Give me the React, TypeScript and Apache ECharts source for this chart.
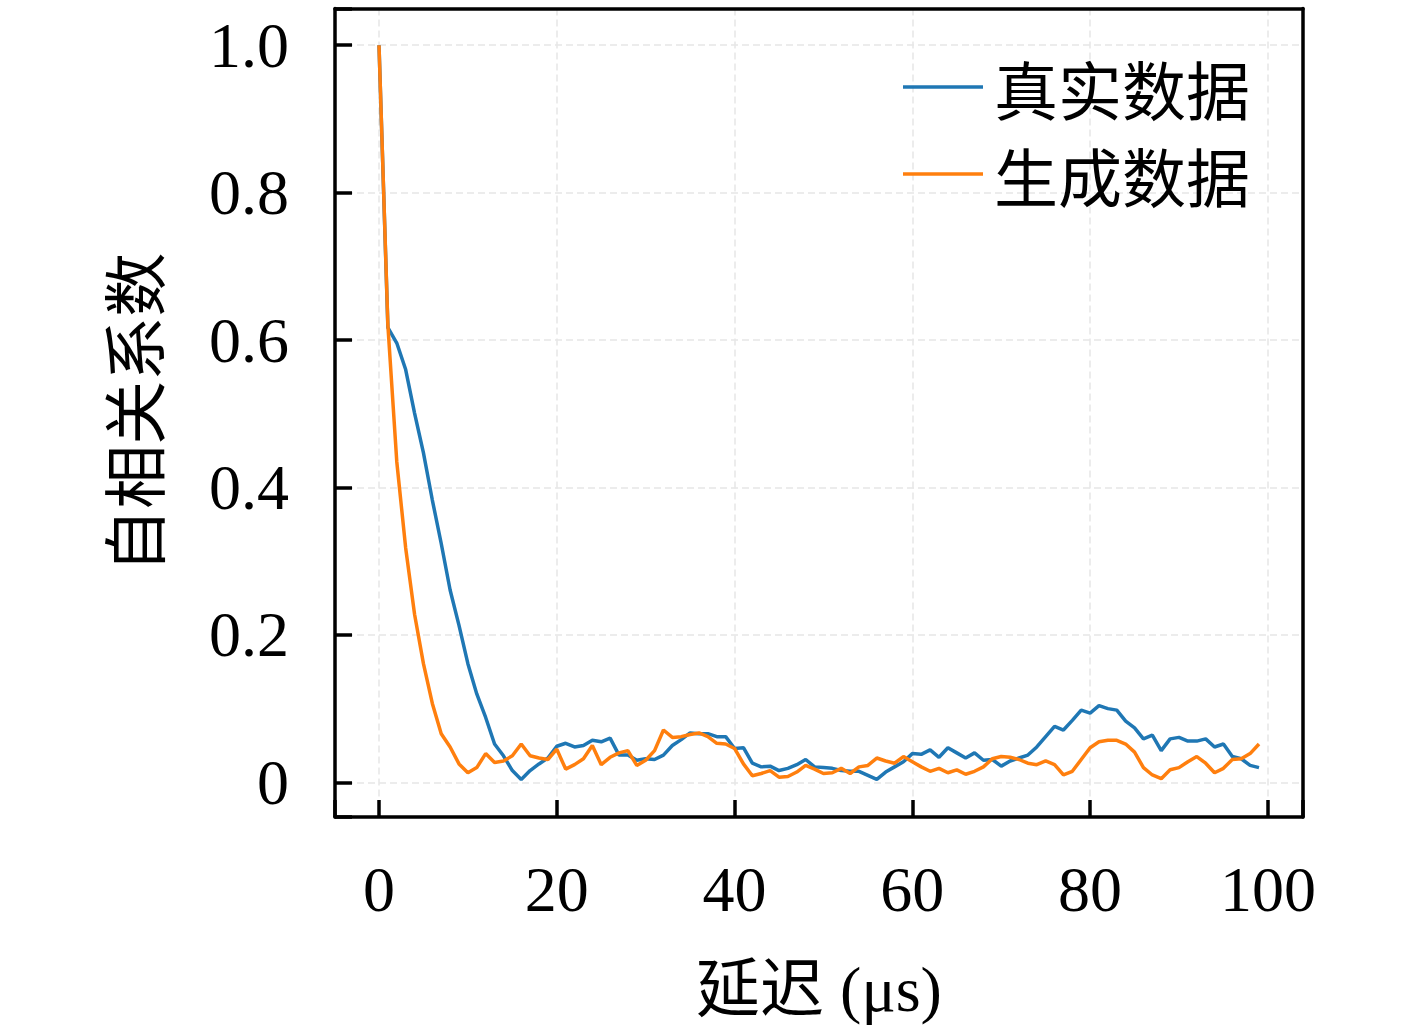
import { useEffect, useRef } from 'react';
import * as echarts from 'echarts';

const realAcf = [
  1.0, 0.617, 0.596, 0.56, 0.501, 0.447, 0.383, 0.324, 0.261, 0.213,
  0.161, 0.12, 0.088, 0.052, 0.036, 0.016, 0.004, 0.016, 0.025, 0.033,
  0.049, 0.053, 0.048, 0.05, 0.057, 0.055, 0.06, 0.037, 0.037, 0.03,
  0.032, 0.031, 0.037, 0.05, 0.058, 0.067, 0.066, 0.066, 0.062, 0.062,
  0.046, 0.047, 0.026, 0.021, 0.022, 0.016, 0.019, 0.024, 0.031, 0.021,
  0.02, 0.019, 0.016, 0.015, 0.015, 0.0095, 0.004, 0.014, 0.021, 0.028,
  0.039, 0.038, 0.044, 0.034, 0.047, 0.04, 0.033, 0.04, 0.03, 0.031,
  0.022, 0.029, 0.033, 0.037, 0.048, 0.062, 0.076, 0.071, 0.084, 0.098,
  0.094, 0.104, 0.1, 0.098, 0.083, 0.074, 0.059, 0.064, 0.043, 0.059,
  0.061, 0.056, 0.056, 0.059, 0.048, 0.052, 0.035, 0.032, 0.023, 0.02,
];

const generatedAcf = [
  1.0, 0.62, 0.435, 0.318, 0.228, 0.161, 0.107, 0.066, 0.048, 0.025,
  0.013, 0.02, 0.039, 0.027, 0.029, 0.036, 0.052, 0.036, 0.033, 0.031,
  0.045, 0.018, 0.024, 0.032, 0.05, 0.024, 0.034, 0.04, 0.043, 0.023,
  0.03, 0.043, 0.071, 0.061, 0.062, 0.065, 0.067, 0.062, 0.053, 0.052,
  0.046, 0.025, 0.009, 0.012, 0.016, 0.007, 0.008, 0.014, 0.023, 0.018,
  0.012, 0.013, 0.019, 0.012, 0.021, 0.023, 0.033, 0.029, 0.026, 0.035,
  0.028, 0.021, 0.015, 0.019, 0.013, 0.017, 0.011, 0.015, 0.021, 0.032,
  0.035, 0.034, 0.031, 0.026, 0.024, 0.029, 0.024, 0.01, 0.015, 0.031,
  0.047, 0.055, 0.057, 0.057, 0.052, 0.041, 0.02, 0.01, 0.005, 0.017,
  0.02, 0.028, 0.035, 0.026, 0.013, 0.019, 0.031, 0.032, 0.039, 0.052,
];

const seriesNames = ['真实数据', '生成数据'];
const xTickStep = 20;
const yTickStep = 0.2;

const SERIF = "'Liberation Serif', 'Noto Sans CJK SC', serif";
const CJK = "'Noto Sans CJK SC', sans-serif";

const onStep = (v: number, step: number) =>
  Math.abs(v / step - Math.round(v / step)) < 1e-6;

const boxLine = { show: true, onZero: false, lineStyle: { color: '#000', width: 3.5 } };
const inTick = { show: true, inside: true, length: 17, lineStyle: { color: '#000', width: 3.5 } };
const gridLine = {
  show: true,
  showMinLine: false,
  showMaxLine: false,
  lineStyle: { color: '#e6e6e6', width: 1.5, type: [7, 4] },
};

export default function App() {
  const chartRef = useRef<HTMLDivElement>(null);

  useEffect(() => {
    if (!chartRef.current) return;
    const chart = echarts.init(chartRef.current, null, { renderer: 'svg' });

    const toPairs = (arr: number[]) => arr.map((v, i) => [i, v]);

    const xRange = { type: 'value', min: -4.95, max: 103.95, minInterval: xTickStep, maxInterval: xTickStep };
    const yRange = { type: 'value', min: -0.047, max: 1.0498, minInterval: yTickStep, maxInterval: yTickStep };

    const option = {
      animation: false,
      backgroundColor: '#fff',
      grid: {
        left: 335,
        top: 8.5,
        right: 114,
        bottom: 218,
      },
      legend: {
        left: 898,
        top: 50,
        orient: 'vertical',
        itemWidth: 80,
        itemHeight: 3.5,
        itemGap: 23,
        icon: 'rect',
        textStyle: {
          fontFamily: CJK,
          fontSize: 64,
          color: '#000',
          padding: [0, 0, 0, 6],
        },
        data: seriesNames,
      },
      xAxis: [
        {
          ...xRange,
          name: '延迟 (μs)',
          nameLocation: 'middle',
          nameGap: 140,
          nameTextStyle: { fontFamily: SERIF, fontSize: 64, color: '#000' },
          axisLine: boxLine,
          axisTick: inTick,
          axisLabel: {
            margin: 40,
            fontFamily: SERIF,
            fontSize: 64,
            color: '#000',
            formatter: (v: number) => (onStep(v, xTickStep) ? String(Math.round(v)) : ''),
          },
          splitLine: gridLine,
        },
        {
          ...xRange,
          position: 'top',
          axisLine: boxLine,
          axisTick: { show: false },
          axisLabel: { show: false },
          splitLine: { show: false },
        },
      ],
      yAxis: [
        {
          ...yRange,
          name: '自相关系数',
          nameLocation: 'middle',
          nameGap: 172,
          nameTextStyle: { fontFamily: CJK, fontSize: 64, color: '#000' },
          axisLine: boxLine,
          axisTick: inTick,
          axisLabel: {
            margin: 46,
            fontFamily: SERIF,
            fontSize: 64,
            color: '#000',
            formatter: (v: number) => {
              if (!onStep(v, yTickStep)) return '';
              return Math.abs(v) < 1e-9 ? '0' : v.toFixed(1);
            },
          },
          splitLine: gridLine,
        },
        {
          ...yRange,
          position: 'right',
          axisLine: boxLine,
          axisTick: { show: false },
          axisLabel: { show: false },
          splitLine: { show: false },
        },
      ],
      series: [
        {
          name: seriesNames[0],
          type: 'line',
          symbol: 'none',
          color: '#1f77b4',
          lineStyle: { width: 3.5, color: '#1f77b4' },
          data: toPairs(realAcf),
        },
        {
          name: seriesNames[1],
          type: 'line',
          symbol: 'none',
          color: '#ff7f0e',
          lineStyle: { width: 3.5, color: '#ff7f0e' },
          data: toPairs(generatedAcf),
        },
      ],
    };

    chart.setOption(option);

    return () => {
      chart.dispose();
    };
  }, []);

  return (
    <div
      ref={chartRef}
      style={{ position: 'absolute', left: 0, top: 0, width: 1417, height: 1035 }}
    />
  );
}
